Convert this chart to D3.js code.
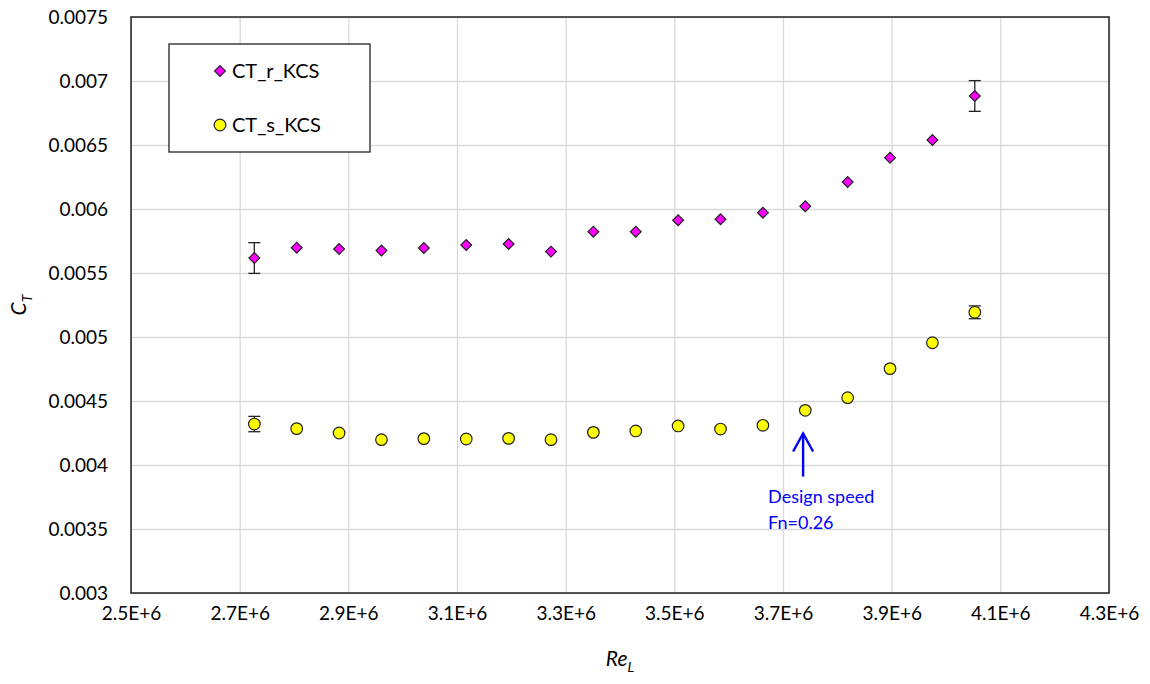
<!DOCTYPE html>
<html>
<head>
<meta charset="utf-8">
<script src="https://cdn.jsdelivr.net/npm/d3@7"></script>
<style>
  body { margin: 0; background: #fff; }
  text { font-family: Lato, "Open Sans", "Liberation Sans", sans-serif; fill: #000; }
</style>
</head>
<body>
<svg id="chart" width="1150" height="684"></svg>
<script>
// Reynolds number per run
const reL = [2.727e6, 2.805e6, 2.883e6, 2.961e6, 3.039e6, 3.117e6, 3.195e6, 3.273e6, 3.351e6,
             3.429e6, 3.507e6, 3.585e6, 3.663e6, 3.741e6, 3.819e6, 3.897e6, 3.975e6, 4.053e6];
const ctR = [0.005617, 0.005698, 0.005688, 0.005675, 0.005695, 0.005719, 0.005727, 0.005667, 0.005823,
             0.005823, 0.005912, 0.005920, 0.005971, 0.006021, 0.006211, 0.006401, 0.006539, 0.006883];
const ctS = [0.004320, 0.004284, 0.004250, 0.004198, 0.004206, 0.004203, 0.004208, 0.004198, 0.004255,
             0.004266, 0.004305, 0.004281, 0.004310, 0.004427, 0.004526, 0.004753, 0.004955, 0.005193];
// error bars only on first and last points (index -> half width)
const errR = { 0: 0.00012, 17: 0.00012 };
const errS = { 0: 0.00006, 17: 0.00005 };
const xTicks = [2.5e6, 2.7e6, 2.9e6, 3.1e6, 3.3e6, 3.5e6, 3.7e6, 3.9e6, 4.1e6, 4.3e6];
const yTicks = [0.003, 0.0035, 0.004, 0.0045, 0.005, 0.0055, 0.006, 0.0065, 0.007, 0.0075];
const yTickLabels = ['0.003', '0.0035', '0.004', '0.0045', '0.005', '0.0055', '0.006', '0.0065', '0.007', '0.0075'];
const seriesNames = ['CT_r_KCS', 'CT_s_KCS'];
const designRe = 3.737e6;

const svg = d3.select('#chart');
const margin = { top: 17, right: 41, bottom: 91, left: 131 };
const width = 1150 - margin.left - margin.right;
const height = 684 - margin.top - margin.bottom;

const g = svg.append('g').attr('transform', `translate(${margin.left},${margin.top})`);

const x = d3.scaleLinear().domain([2.5e6, 4.3e6]).range([0, width]);
const y = d3.scaleLinear().domain([0.003, 0.0075]).range([height, 0]);

// grid
g.append('g')
  .call(d3.axisBottom(x).tickValues(xTicks).tickSize(height).tickFormat(() => ''))
  .call(s => s.select('.domain').remove())
  .selectAll('line').attr('stroke', '#d9d9d9').attr('stroke-width', 1.3);
g.append('g')
  .call(d3.axisLeft(y).tickValues(yTicks).tickSize(-width).tickFormat(() => ''))
  .call(s => s.select('.domain').remove())
  .selectAll('line').attr('stroke', '#d9d9d9').attr('stroke-width', 1.3);

// axes labels
const xAxis = g.append('g')
  .attr('transform', `translate(0,${height})`)
  .call(d3.axisBottom(x).tickValues(xTicks).tickSize(0).tickPadding(14)
    .tickFormat(d => (d / 1e6).toFixed(1) + 'E+6'));
xAxis.select('.domain').remove();
xAxis.selectAll('text').style('font-size', '19px');

const yAxis = g.append('g')
  .call(d3.axisLeft(y).tickValues(yTicks).tickSize(0).tickPadding(23)
    .tickFormat((d, i) => yTickLabels[i]));
yAxis.select('.domain').remove();
yAxis.selectAll('text').style('font-size', '19px');

// plot border
g.append('rect')
  .attr('width', width).attr('height', height)
  .attr('fill', 'none').attr('stroke', '#222').attr('stroke-width', 1.5);

// axis titles
const xt = svg.append('text')
  .attr('x', margin.left + x(3.4e6)).attr('y', 666)
  .attr('text-anchor', 'middle').style('font-size', '21px').style('font-style', 'italic');
xt.append('tspan').text('Re');
xt.append('tspan').attr('dy', 6).style('font-size', '14px').text('L');

const yt = svg.append('text')
  .attr('transform', `translate(26,${margin.top + y(0.00525)}) rotate(-90)`)
  .attr('text-anchor', 'middle').style('font-size', '21px').style('font-style', 'italic');
yt.append('tspan').text('C');
yt.append('tspan').attr('dy', 6).style('font-size', '14px').text('T');

// error bars
function errorBars(vals, errs) {
  Object.keys(errs).forEach(k => {
    const i = +k, e = errs[k];
    const cx = x(reL[i]);
    const y0 = y(vals[i] - e), y1 = y(vals[i] + e);
    g.append('line').attr('x1', cx).attr('x2', cx).attr('y1', y0).attr('y2', y1)
      .attr('stroke', '#222').attr('stroke-width', 1.3);
    [y0, y1].forEach(yy => g.append('line')
      .attr('x1', cx - 6).attr('x2', cx + 6).attr('y1', yy).attr('y2', yy)
      .attr('stroke', '#222').attr('stroke-width', 1.3));
  });
}
errorBars(ctR, errR);
errorBars(ctS, errS);

const diamond = d3.symbol().type(d3.symbolSquare).size(58);

// CT_r series
g.append('g').selectAll('path')
  .data(reL.map((r, i) => [r, ctR[i]]))
  .join('path')
  .attr('d', diamond)
  .attr('transform', d => `translate(${x(d[0])},${y(d[1])}) rotate(45)`)
  .attr('fill', '#ff00ff').attr('stroke', '#222').attr('stroke-width', 1.2);

// CT_s series
g.append('g').selectAll('circle')
  .data(reL.map((r, i) => [r, ctS[i]]))
  .join('circle')
  .attr('cx', d => x(d[0])).attr('cy', d => y(d[1])).attr('r', 5.8)
  .attr('fill', '#ffff00').attr('stroke', '#222').attr('stroke-width', 1.2);

// design speed annotation
const ax = x(designRe);
const arrowTop = y(0.00441) + 20;
g.append('line').attr('x1', ax).attr('x2', ax).attr('y1', arrowTop + 1).attr('y2', arrowTop + 44)
  .attr('stroke', '#0000ff').attr('stroke-width', 2.4);
g.append('path')
  .attr('d', `M${ax - 10},${arrowTop + 19}L${ax},${arrowTop + 1}L${ax + 10},${arrowTop + 19}`)
  .attr('fill', 'none').attr('stroke', '#0000ff').attr('stroke-width', 2.4);
g.append('text').attr('x', ax - 35).attr('y', arrowTop + 70)
  .style('font-size', '18px').style('fill', '#0000ff').text('Design speed');
g.append('text').attr('x', ax - 35).attr('y', arrowTop + 96)
  .style('font-size', '18px').style('fill', '#0000ff').text('Fn=0.26');

// legend
const lg = svg.append('g').attr('transform', 'translate(169,44)');
lg.append('rect').attr('width', 201).attr('height', 108)
  .attr('fill', '#fff').attr('stroke', '#222').attr('stroke-width', 1.3);
lg.append('path').attr('d', diamond)
  .attr('transform', 'translate(51,27) rotate(45)')
  .attr('fill', '#ff00ff').attr('stroke', '#222').attr('stroke-width', 1.2);
lg.append('circle').attr('cx', 51).attr('cy', 81).attr('r', 5.8)
  .attr('fill', '#ffff00').attr('stroke', '#222').attr('stroke-width', 1.2);
lg.selectAll('text.leg').data(seriesNames).join('text').attr('class', 'leg')
  .attr('x', 63).attr('y', (d, i) => 27 + i * 54).attr('dy', '0.35em')
  .style('font-size', '20px').text(d => d);
</script>
</body>
</html>
